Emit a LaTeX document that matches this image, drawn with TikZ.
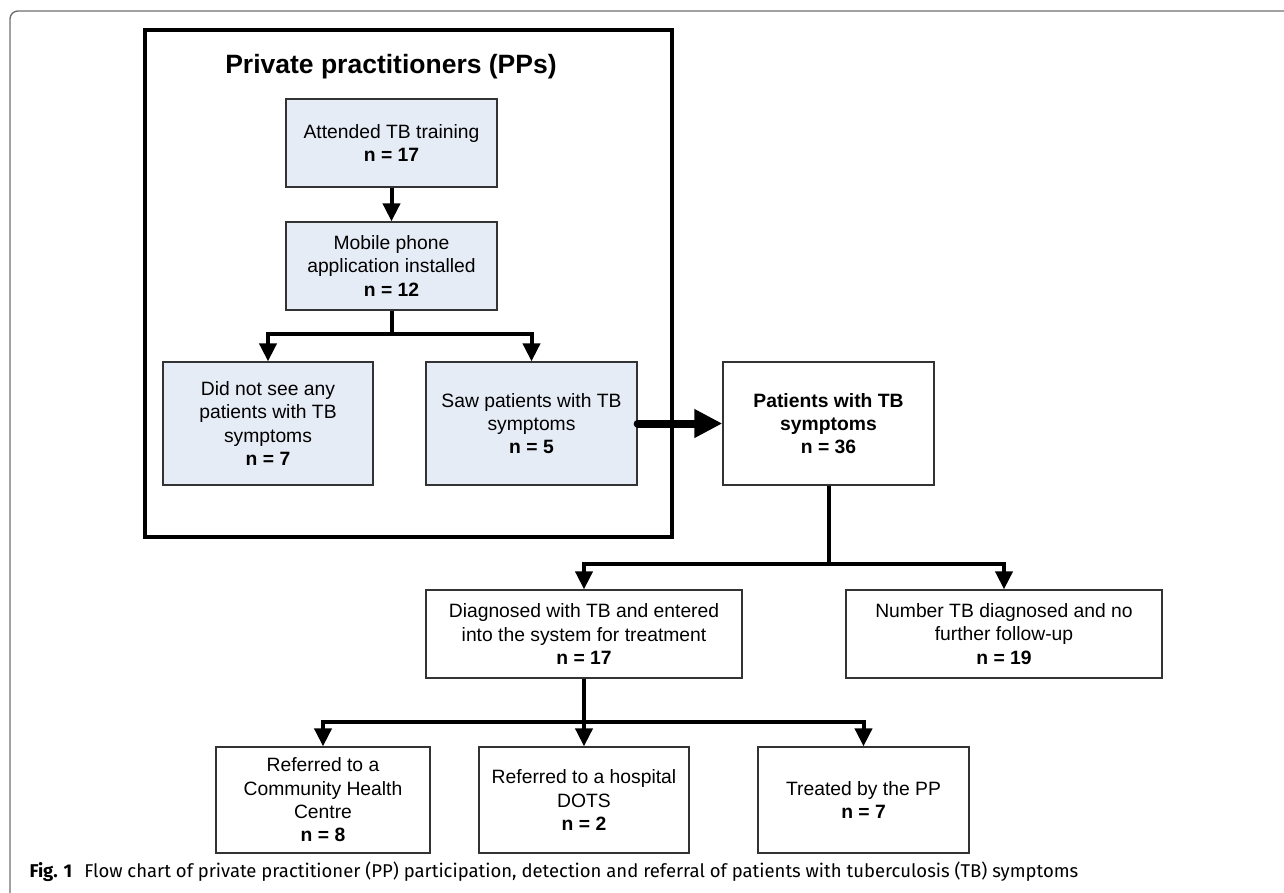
\documentclass[tikz,border=0pt]{standalone}
\usepackage{fontspec}
\usepackage{xcolor}
\usepackage{tikz}
\usetikzlibrary{arrows.meta,positioning}
\newfontfamily\arial{Liberation Sans}
\newfontfamily\capfont{Fira Sans}
\definecolor{ppfill}{HTML}{E6ECF6}
\definecolor{boxline}{HTML}{333333}
\definecolor{frameline}{HTML}{6E6E6E}
\newcommand{\nn}[1]{\textbf{n = #1}}

\begin{document}
\begin{tikzpicture}[x=1pt,y=-1pt,
  font=\arial\fontsize{19.3}{23.3}\selectfont,
  pp/.style={draw=boxline,fill=ppfill,line width=1.3pt,align=center,inner sep=0pt},
  pt/.style={draw=boxline,fill=white,line width=1.3pt,align=center,inner sep=0pt},
  w/.style={-{Triangle[length=18pt,width=17pt]},line width=4pt},
  big/.style={-{Triangle[length=28pt,width=27pt]},line width=8pt,line cap=round}]
  \useasboundingbox (0,0) rectangle (1284,892);
  \begin{scope}
    \clip (0,0) rectangle (1284,892);
    \draw[frameline,line width=1.4pt,rounded corners=8pt] (10,11) rectangle (1400,1000);
  \end{scope}
  % private practitioners
  \draw[line width=3.5pt] (145,30) rectangle (672,537);
  \node[anchor=base,font=\arial\bfseries\fontsize{26.5}{30}\selectfont] (pptitle) at (391,73)
       {Private practitioners (PPs)};
  \node[pp,minimum width=211pt,minimum height=88pt] (train) at (391.5,143)
       {Attended TB training\\\nn{17}};
  \node[pp,minimum width=211pt,minimum height=88pt] (app) at (391.5,266)
       {Mobile phone\\application installed\\\nn{12}};
  \node[pp,minimum width=210pt,minimum height=123pt] (none) at (268,423.5)
       {Did not see any\\patients with TB\\symptoms\\\nn{7}};
  \node[pp,minimum width=211pt,minimum height=123pt] (saw) at (531.5,423.5)
       {Saw patients with TB\\symptoms\\\nn{5}};
  % patients
  \node[pt,minimum width=211pt,minimum height=123pt,font=\arial\bfseries\fontsize{19.3}{23.3}\selectfont] (pts)
       at (828.5,423.5) {Patients with TB\\symptoms\\n = 36};
  \node[pt,minimum width=316pt,minimum height=88pt] (diag) at (584,634)
       {Diagnosed with TB and entered\\into the system for treatment\\\nn{17}};
  \node[pt,minimum width=316pt,minimum height=88pt] (nofu) at (1004,634)
       {Number TB diagnosed and no\\further follow-up\\\nn{19}};
  \node[pt,minimum width=214pt,minimum height=106pt] (chc) at (323,800)
       {Referred to a\\Community Health\\Centre\\\nn{8}};
  \node[pt,minimum width=210pt,minimum height=106pt] (hosp) at (584,800)
       {Referred to a hospital\\DOTS\\\nn{2}};
  \node[pt,minimum width=211pt,minimum height=106pt] (treat) at (863.5,800)
       {Treated by the PP\\\nn{7}};
  \draw[w] (train) -- (app);
  \draw[w] (app.south) -- ++(0,23) -| (none.north);
  \draw[w] (app.south) -- ++(0,23) -| (saw.north);
  \draw[big] (saw.east) -- (pts.west);
  \draw[w] (pts.south) -- ++(0,78) -| (diag.north);
  \draw[w] (pts.south) -- ++(0,78) -| (nofu.north);
  \draw[w] (diag.south) -- ++(0,43) -| (chc.north);
  \draw[w] (diag) -- (hosp);
  \draw[w] (diag.south) -- ++(0,43) -| (treat.north);
  \node[anchor=base west,font=\capfont\fontsize{18.5}{21}\selectfont] (cap) at (26,877)
       {\textbf{Fig. 1}\hspace{12pt}Flow chart of private practitioner (PP) participation, detection and referral of patients with tuberculosis (TB) symptoms};
\end{tikzpicture}
\end{document}
